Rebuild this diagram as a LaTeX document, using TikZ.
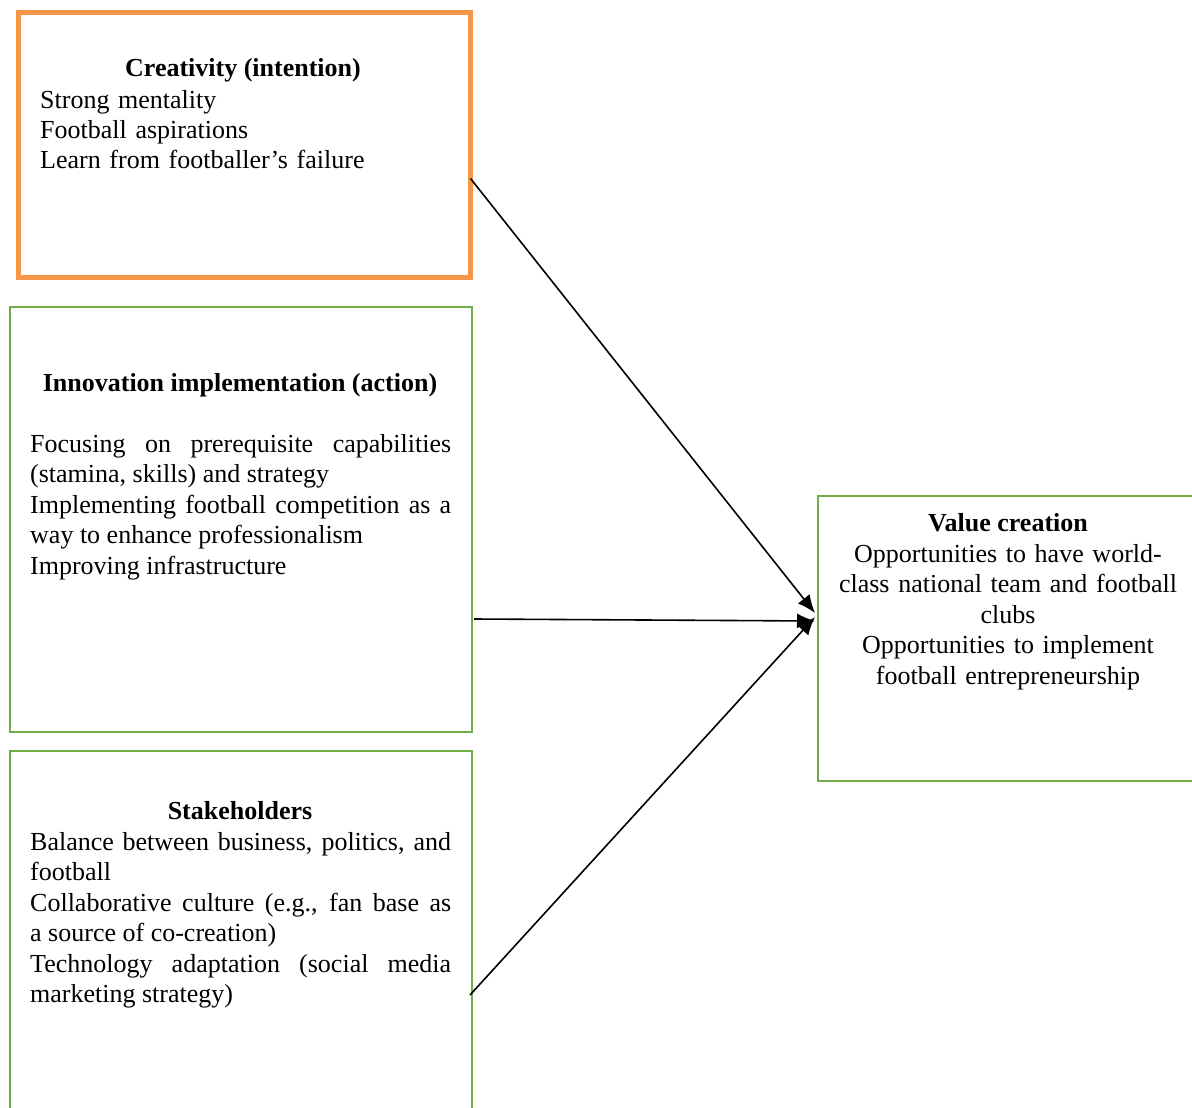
\documentclass[tikz,border=0pt]{standalone}
\usepackage{fontspec}
\setmainfont{Liberation Serif}
\usetikzlibrary{arrows.meta,calc}
\definecolor{orng}{HTML}{F79646}
\definecolor{grn}{HTML}{70AD47}
\hyphenpenalty=10000\relax
\tikzset{
 box/.style={draw, rectangle, inner sep=0, outer sep=0, anchor=north west},
 obox/.style={box, draw=orng, line width=4.5pt},
 gbox/.style={box, draw=grn, line width=2.8pt},
 ttl/.style={inner sep=0, anchor=base, font=\fontsize{26}{30.5}\selectfont\bfseries},
 body/.style={inner sep=0, anchor=base west, font=\fontsize{26}{30.5}\selectfont, align=justify, text width=421pt},
 cbody/.style={inner sep=0, anchor=base, font=\fontsize{26}{30.5}\selectfont, align=center, text width=370pt},
 conn/.style={line width=1.6pt, -{Latex[length=18pt,width=15pt]}}
}
\begin{document}
\begin{tikzpicture}[x=1pt,y=-1pt]
\useasboundingbox (0,0) rectangle (1192,1108);
\clip (0,0) rectangle (1192,1108);
\node[obox, minimum width=452pt, minimum height=265pt] (crea) at (18.5,12.5) {};
\node[gbox, minimum width=462pt, minimum height=425pt] (innov) at (10,307) {};
\node[gbox, minimum width=462pt, minimum height=400pt] (stake) at (10,751) {};
\node[gbox, minimum width=380pt, minimum height=285pt] (val) at (818,496) {};

\node[ttl] (creat) at (243,77) {Creativity (intention)};
\node[body, align=left, text width=430pt] (creab) at (40,108) {Strong mentality\\Football aspirations\\Learn from footballer’s failure};

\node[ttl] (innovt) at (240,391) {Innovation implementation (action)};
\node[body] (innovb) at (30,452) {Focusing on prerequisite capabilities\linebreak (stamina, skills) and strategy\\Implementing football competition as a\linebreak way to enhance professionalism\\Improving infrastructure};

\node[ttl] (staket) at (240,819) {Stakeholders};
\node[body] (stakeb) at (30,850) {Balance between business, politics, and\linebreak football\\Collaborative culture (e.g., fan base as\linebreak a source of co-creation)\\Technology adaptation (social media\linebreak marketing strategy)};

\node[ttl] (valt) at (1008,531) {Value creation};
\node[cbody] (valb) at (1008,562) {Opportunities to have world-\\class national team and football\\clubs\\Opportunities to implement\\football entrepreneurship};

\draw[conn] ([yshift=-33.5pt]crea.east) -- ([xshift=-3pt,yshift=25.5pt]val.west);
\draw[conn] ([xshift=2pt,yshift=-99.5pt]innov.east) -- ([xshift=-3pt,yshift=17.5pt]val.west);
\draw[conn] ([xshift=-2pt,yshift=-44pt]stake.east) -- ([xshift=-3pt,yshift=21.5pt]val.west);
\end{tikzpicture}
\end{document}
